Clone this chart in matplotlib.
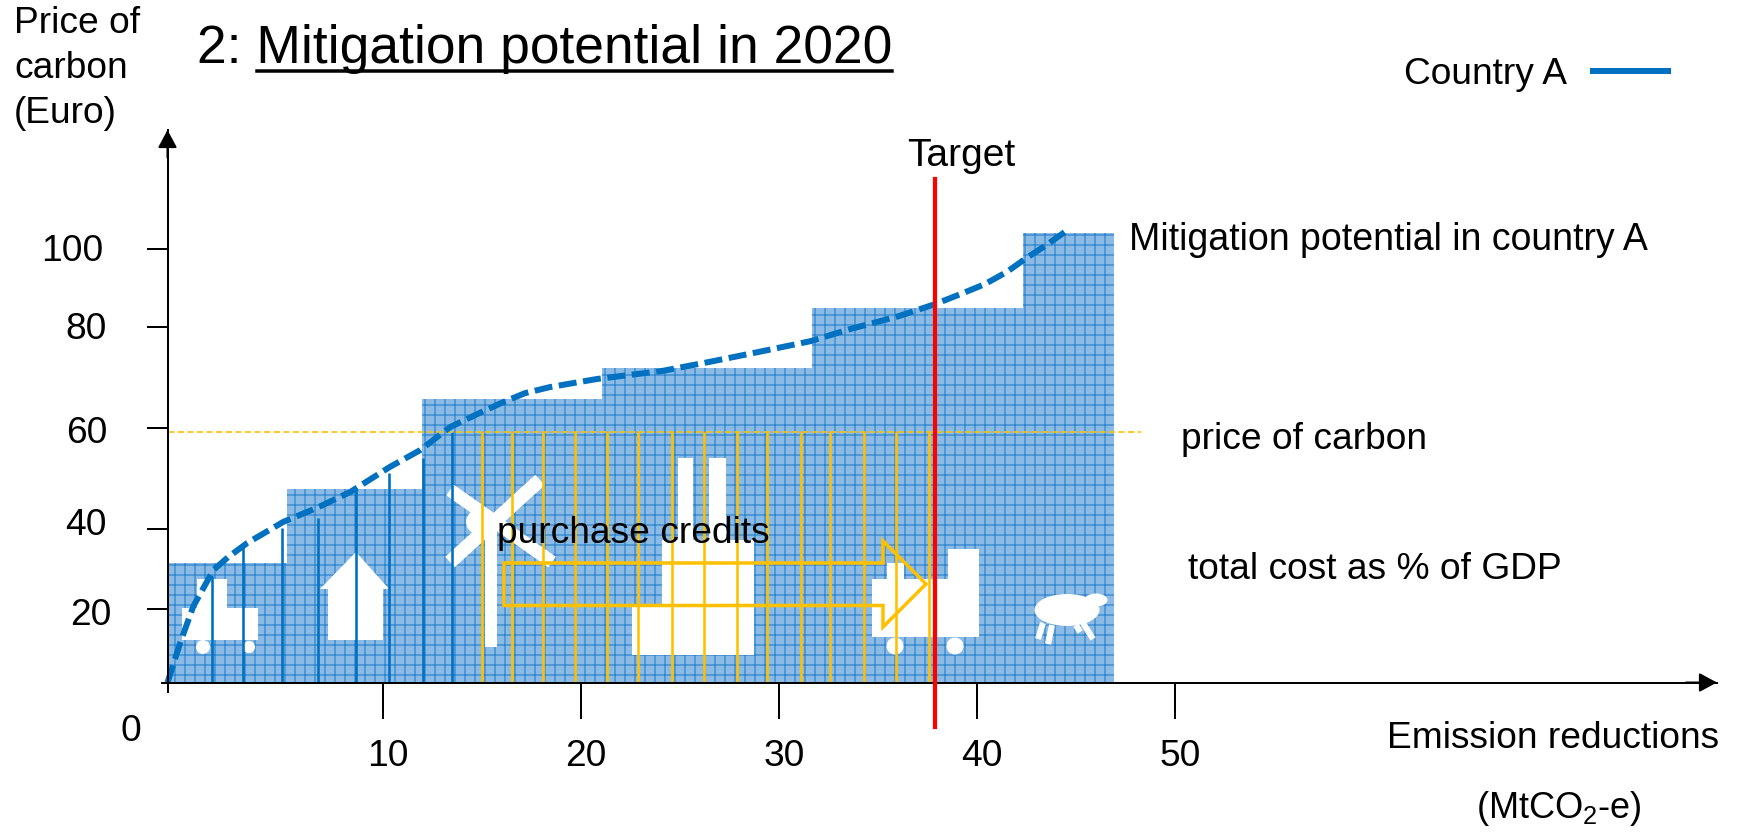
import matplotlib
matplotlib.use('Agg')
import matplotlib.pyplot as plt
import numpy as np
from matplotlib.lines import Line2D
from matplotlib.patches import Circle, Ellipse, Polygon, Rectangle
from matplotlib.transforms import Affine2D, ScaledTranslation

plt.rcParams['font.family'] = ['Liberation Sans', 'DejaVu Sans']
plt.rcParams['mathtext.default'] = 'regular'

# bars: marginal cost blocks
bar_edges = [0, 5.56, 11.97, 21.06, 31.66, 42.3, 46.9]
bar_tops = [31.4, 47.9, 65.8, 71.8, 84.9, 104.0]

# mitigation curve of country A
curve_x = [0, 0.6, 1.2, 2.13, 2.82, 3.7, 5.37, 6.94, 8.47, 10.35, 11.87, 13.4, 15.0,
           16.06, 17.17, 18.43, 20.8, 24.1, 26.5, 28.9, 31.6, 33.6, 36.0, 37.9, 39.3,
           40.4, 41.5, 42.5, 43.5, 44.5]
curve_y = [0, 11, 20.7, 29.75, 33.0, 36.5, 41.4, 44.2, 47.3, 52.3, 55.6, 60.2, 63.2,
           65.1, 66.9, 68.1, 69.7, 71.3, 73.1, 75.0, 77.2, 79.6, 82.7, 85.9, 88.7,
           91.0, 94.1, 97.7, 101.0, 104.6]

# vertical strips under the curve / under the carbon price
blue_x = [2.08, 3.5, 5.3, 7.0, 8.75, 10.3, 12.0, 13.5]
blue_top = [28.2, 35.6, 40.2, 42.2, 48.1, 51.1, 54.0, 59.2]
orange_x = [15.0, 16.5, 18.1, 19.7, 21.3, 22.9, 24.6, 26.2, 27.9, 29.4, 31.1,
            32.6, 34.3, 35.9, 37.6]
carbon_price = 59.2
carbon_price_end = 48.3
target_x = 37.9

x_ticks = [10, 20, 30, 40, 50]
y_ticks = [20, 40, 60, 80, 100]

W, H = 1737, 832
DPI = 120
BLUE = '#0070C0'
ORANGE = '#FFC000'
FS = 22.3

# the hand drawn axes are not evenly spaced, so both scales are piecewise
x_vals = [-100, 0, 10, 20, 30, 40, 50, 150]
x_pos = [-2160, 0, 215.5, 413.5, 611.5, 809.5, 1007.5, 2987.5]
y_vals = [-100, 0, 20, 40, 60, 80, 100, 300]
y_pos = [-365, 0, 73.5, 153.5, 254.5, 355.5, 433.5, 1213.5]


def x_fwd(v):
    return np.interp(v, x_vals, x_pos)


def x_inv(p):
    return np.interp(p, x_pos, x_vals)


def y_fwd(v):
    return np.interp(v, y_vals, y_pos)


def y_inv(p):
    return np.interp(p, y_pos, y_vals)


fig = plt.figure(figsize=(W / DPI, H / DPI), dpi=DPI)
ax = fig.add_axes([167.5 / W, 1 - 682.5 / H, (1717 - 167.5) / W, (682.5 - 130) / H])
ax.set_xscale('function', functions=(x_fwd, x_inv))
ax.set_yscale('function', functions=(y_fwd, y_inv))
ax.patch.set_visible(False)

# pixel coordinates of the picture, for labels and the little icons
px = Affine2D().scale(1 / W, -1 / H).translate(0, 1) + fig.transFigure

widths = np.diff(bar_edges)
ax.bar(bar_edges[:-1], bar_tops, widths, align='edge', color='#7FB3E0', linewidth=0, zorder=1)
plt.rcParams['hatch.linewidth'] = 0.3
ax.bar(bar_edges[:-1], bar_tops, widths, align='edge', color='none', edgecolor='#97C3E8',
       hatch='+' * 10, linewidth=0, zorder=1.1)
plt.rcParams['hatch.linewidth'] = 0.75
ax.bar(bar_edges[:-1], bar_tops, widths, align='edge', color='none', edgecolor='#2E86CE',
       hatch='++', linewidth=0, zorder=1.2)


# icons
def white(p):
    p.set(facecolor='white', edgecolor='none', transform=px, clip_on=False, zorder=2)
    ax.add_patch(p)


def wline(x0, y0, x1, y1, w):
    ax.add_line(Line2D([x0, x1], [y0, y1], color='white', lw=w * 72 / DPI, transform=px,
                       solid_capstyle='butt', zorder=2))


# tractor
white(Rectangle((182, 608), 76, 32))
white(Rectangle((197, 579), 30, 46))
white(Circle((203, 647), 7))
white(Circle((249, 647), 6))
# house
white(Polygon([(356, 552), (320, 589), (328, 589), (328, 640), (383, 640), (383, 589), (389, 589)]))
# windmill
white(Rectangle((485, 530), 12, 117))
white(Circle((478, 522), 12))
wline(450, 490, 552, 562, 13)
wline(540, 480, 450, 562, 14)
# factory
white(Rectangle((677.5, 458), 15.5, 90))
white(Rectangle((709, 458), 17, 90))
white(Rectangle((662, 540), 92, 115))
white(Rectangle((632, 607), 30, 48))
# truck
white(Rectangle((872, 579), 107, 58))
white(Rectangle((948, 549), 31, 31))
white(Rectangle((887, 563), 17, 16))
white(Circle((895, 646), 8.5))
white(Circle((955, 646), 8.5))
# sheep
white(Ellipse((1067, 610), 65, 32))
white(Ellipse((1096, 600), 23, 13))
wline(1043, 623, 1038, 639, 6)
wline(1052, 625, 1048, 644, 6)
wline(1083, 623, 1093, 639, 6)
wline(1076, 625, 1080, 632, 6)

lw_px = 72 / DPI
ax.vlines(blue_x, 0, blue_top, colors=BLUE, lw=2.6 * lw_px, zorder=3)
ax.vlines(orange_x, 0, carbon_price, colors=ORANGE, lw=2.6 * lw_px, zorder=3)
ax.plot([0, carbon_price_end], [carbon_price, carbon_price], color=ORANGE, lw=1.6 * lw_px,
        linestyle=(0, (4, 2)), zorder=3)

arrow_pts = [(504, 563), (883, 563), (883, 541), (926, 584), (883, 627), (883, 605.5), (504, 605.5)]
ax.add_patch(Polygon(arrow_pts, closed=True, facecolor='none', edgecolor=ORANGE, lw=3.5 * lw_px,
                     transform=px, clip_on=False, zorder=4))

ax.plot(curve_x, curve_y, color=BLUE, lw=6 * lw_px, linestyle=(0, (3, 1.1)), clip_on=False, zorder=5)
ax.plot([target_x, target_x], [-12.3, 118], color='#FF0000', lw=4.2 * lw_px, clip_on=False, zorder=7)

# axes
ax.set_xlim(0, x_inv(1717 - 167.5))
ax.set_ylim(0, y_inv(682.5 - 130))
ax.spines['top'].set_visible(False)
ax.spines['right'].set_visible(False)
for s in ('left', 'bottom'):
    ax.spines[s].set_linewidth(2 * lw_px)
    ax.spines[s].set_zorder(6)
arrow_style = dict(arrowstyle='-|>,head_length=0.8,head_width=0.43', mutation_scale=11.25,
                   color='black', lw=2 * lw_px, shrinkA=0, shrinkB=0)
ax.annotate('', xy=(1, 0), xytext=(0.98, 0), xycoords='axes fraction', arrowprops=arrow_style)
ax.annotate('', xy=(0, 1), xytext=(0, 0.95), xycoords='axes fraction', arrowprops=arrow_style)

ax.set_xticks(x_ticks, [str(t) for t in x_ticks])
ax.set_yticks(y_ticks, [str(t) for t in y_ticks])
ax.set_xticks([0], minor=True)
ax.set_yticks([0], minor=True)
ax.xaxis.set_minor_formatter(plt.NullFormatter())
ax.yaxis.set_minor_formatter(plt.NullFormatter())
ax.tick_params(axis='x', which='major', length=36 * lw_px, width=2 * lw_px, pad=0, labelsize=FS)
ax.tick_params(axis='y', which='major', length=21 * lw_px, width=2 * lw_px, pad=0, labelsize=FS)
ax.tick_params(axis='x', which='minor', length=10 * lw_px, width=2 * lw_px)
ax.tick_params(axis='y', which='minor', length=7 * lw_px, width=2 * lw_px)


def shift(dx, dy):
    return ScaledTranslation(dx * lw_px / 72, -dy * lw_px / 72, fig.dpi_scale_trans)


for lab in ax.get_xticklabels():
    lab.set_va('baseline')
    lab.set_transform(lab.get_transform() + shift(5, 47))
y_shift = {'20': (-34.5, 16), '40': (-39.5, 6), '60': (-39.5, 15), '80': (-39.5, 12), '100': (-43, 12)}
for lab in ax.get_yticklabels():
    lab.set_va('baseline')
    dx, dy = y_shift[lab.get_text()]
    lab.set_transform(lab.get_transform() + shift(dx, dy))


def label(x, y, s, size=FS, z=8):
    ax.text(x, y, s, transform=px, fontsize=size, ha='left', va='baseline', clip_on=False, zorder=z)


label(14, 33, 'Price of')
label(14, 78, 'carbon')
label(14, 122.7, '(Euro)')
label(121, 740.7, '0')
label(197, 63, '2: Mitigation potential in 2020', size=32)
ax.add_line(Line2D([257, 892], [71, 71], color='black', lw=3.5 * lw_px, transform=px, clip_on=False))
label(907, 166, 'Target', size=23.4)
label(1129, 250, 'Mitigation potential in country A', size=22.5)
label(1181, 449, 'price of carbon')
label(497, 543, 'purchase credits')
label(1188, 579, 'total cost as % of GDP')
label(1387, 748, 'Emission reductions')
label(1476, 818, '(MtCO$_2$-e)', size=21.7)

handle = Line2D([], [], color=BLUE, lw=6 * lw_px)
ax.legend([handle], ['Country A'], markerfirst=False, frameon=False, fontsize=FS,
          loc='upper right', bbox_to_anchor=(1668 / W, 1 - 57 / H), bbox_transform=fig.transFigure,
          borderpad=0, borderaxespad=0, handlelength=2.02, handletextpad=0.7)

fig.savefig('out.png', dpi=DPI)
